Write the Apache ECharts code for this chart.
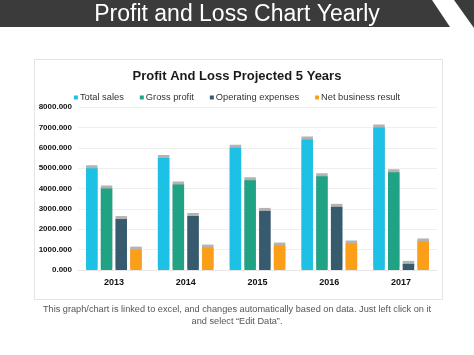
<!DOCTYPE html>
<html>
<head>
<meta charset="utf-8">
<script src="https://cdn.jsdelivr.net/npm/echarts@6/dist/echarts.min.js"></script>
<style>
html,body{margin:0;padding:0;background:#fff;}
#c{width:474px;height:355px;}
</style>
</head>
<body>
<div id="c"></div>
<script>
const years = ['2013', '2014', '2015', '2016', '2017'];
const totalSales = [5000, 5500, 6000, 6400, 7000];
const grossProfit = [4000, 4200, 4400, 4600, 4800];
const operatingExpenses = [2500, 2650, 2900, 3100, 300];
const netBusinessResult = [1000, 1100, 1200, 1300, 1400];
const seriesNames = ['Total sales', 'Gross profit', 'Operating expenses', 'Net business result'];
const colors = ['#1ec1e6', '#1fa384', '#375b6e', '#fb9f19'];

const chart = echarts.init(document.getElementById('c'));
const font = 'Liberation Sans, Arial, sans-serif';
function bar(name, data, color) {
  return {
    name: name, type: 'bar', data: data, barWidth: 11.5, barGap: '28%',
    itemStyle: { color: color, shadowColor: '#b3b3b3', shadowOffsetY: -3, shadowBlur: 0 },
    emphasis: { disabled: true }
  };
}
chart.setOption({
  animation: false,
  color: colors,
  textStyle: { fontFamily: font },
  graphic: [
    { type: 'polygon', shape: { points: [[0,0],[432,0],[450,27],[0,27]] }, style: { fill: '#3b3b3b' }, z: 0 },
    { type: 'polygon', shape: { points: [[454,0],[474,0],[474,28]] }, style: { fill: '#3b3b3b' }, z: 0 },
    { type: 'text', x: 237, y: 3, style: { text: 'Profit and Loss Chart Yearly', fill: '#ffffff', font: '23px ' + font, textAlign: 'center' } },
    { type: 'rect', shape: { x: 34.5, y: 59.5, width: 408, height: 240 }, style: { fill: '#ffffff', stroke: '#e4e4e4', lineWidth: 1 }, z: -1 },
    { type: 'text', x: 237, y: 303, style: { text: 'This graph/chart is linked to excel, and changes automatically based on data. Just left click on it\nand select \u201cEdit Data\u201d.', fill: '#555555', font: '9.2px ' + font, textAlign: 'center', lineHeight: 12 } }
  ],
  title: {
    text: 'Profit And Loss Projected 5 Years', left: 'center', top: 65,
    textStyle: { fontSize: 13, fontWeight: 'bold', color: '#1a1a1a', fontFamily: font }
  },
  legend: {
    data: seriesNames, top: 88, left: 'center', itemWidth: 4, itemHeight: 4, itemGap: 16,
    icon: 'rect', textStyle: { fontSize: 9.3, color: '#333', fontFamily: font, padding: [0,0,0,-3] }
  },
  grid: { left: 78, right: 37, top: 107, bottom: 85, containLabel: false },
  xAxis: {
    type: 'category', data: years,
    axisLine: { show: true, lineStyle: { color: '#e6e6e6' } },
    axisTick: { show: false },
    axisLabel: { fontSize: 9, fontWeight: 'bold', color: '#111', margin: 8, fontFamily: font }
  },
  yAxis: {
    type: 'value', min: 0, max: 8000, interval: 1000,
    axisLine: { show: false }, axisTick: { show: false },
    splitLine: { lineStyle: { color: '#efefef' } },
    axisLabel: { fontSize: 8, fontWeight: 'bold', color: '#111', margin: 6, fontFamily: font,
      formatter: v => v.toFixed(3) }
  },
  series: [
    bar(seriesNames[0], totalSales, colors[0]),
    bar(seriesNames[1], grossProfit, colors[1]),
    bar(seriesNames[2], operatingExpenses, colors[2]),
    bar(seriesNames[3], netBusinessResult, colors[3])
  ]
});
</script>
</body>
</html>
